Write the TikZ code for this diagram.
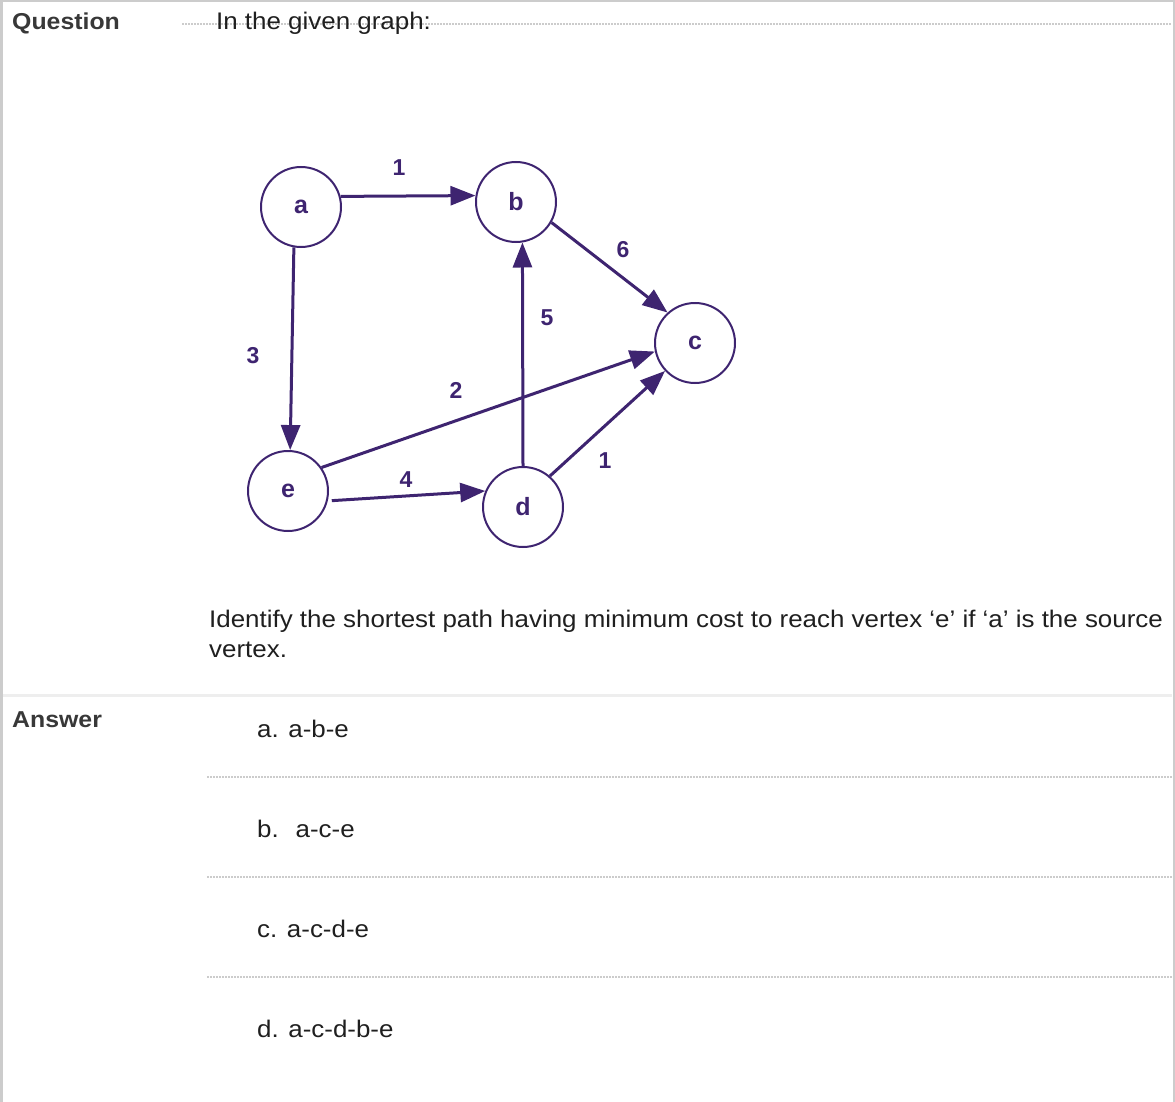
\documentclass[tikz,border=0pt]{standalone}
\usepackage{fontspec}
\setmainfont[FakeStretch=1.08]{Liberation Sans}
\newfontfamily\graphfont{Liberation Sans}
\usetikzlibrary{arrows.meta}
\definecolor{graphpurple}{RGB}{62,36,112}
\definecolor{framegray}{RGB}{204,204,204}
\definecolor{sepgray}{RGB}{238,238,238}
\tikzset{
  vertex/.style={circle, draw=graphpurple, line width=2pt, minimum size=80pt, inner sep=0pt,
    text=graphpurple, font=\graphfont\fontsize{25}{25}\selectfont\bfseries},
  edge/.style={draw=graphpurple, line width=3pt, -{Triangle[length=25pt,width=19pt]}},
  weight/.style={text=graphpurple, font=\graphfont\fontsize{23}{23}\selectfont\bfseries},
  body/.style={anchor=base west, inner sep=0pt, text=black!88, font=\fontsize{24}{28}\selectfont},
  head/.style={anchor=base west, inner sep=0pt, text=black!78, font=\fontsize{23}{28}\selectfont\bfseries},
  dotrule/.style={draw=black!20, line width=1.5pt, dash pattern=on 1.5pt off 1.5pt}
}

\begin{document}
\begin{tikzpicture}[x=1pt,y=-1pt]
    \useasboundingbox (0,0) rectangle (1175,1102);
    % frame and rules
    \draw[framegray, line width=3pt] (1.5,0) -- (1.5,1102);
    \draw[framegray, line width=2pt] (0,1) -- (1175,1);
    \draw[framegray, line width=2pt] (1173.5,0) -- (1173.5,1102);
    \draw[sepgray, line width=3pt] (3,695) -- (1172,695);
    \draw[dotrule] (182,24) -- (1172,24);
    \draw[dotrule] (207,777) -- (1172,777);
    \draw[dotrule] (207,877) -- (1172,877);
    \draw[dotrule] (207,977) -- (1172,977);
    % texts
    \node[head] (question) at (12,30) {Question};
    \node[body] (intro) at (216,30) {In the given graph:};
    \node[body] (task1) at (209,627) {Identify the shortest path having minimum cost to reach vertex ‘e’ if ‘a’ is the source};
    \node[body] (task2) at (209,657) {vertex.};
    \node[head] (answer) at (12,727) {Answer};
    \node[body] (opta) at (257,737) {a. a-b-e};
    \node[body] (optb) at (257,837) {b.~ a-c-e};
    \node[body] (optc) at (257,937) {c. a-c-d-e};
    \node[body] (optd) at (257,1037) {d. a-c-d-b-e};
    % graph
    \node[vertex] (a) at (301,207) {a};
    \node[vertex] (b) at (516,202) {b};
    \node[vertex] (c) at (695,343) {c};
    \node[vertex] (d) at (523,507) {d};
    \node[vertex] (e) at (288,491) {e};
    \draw[edge] (a.15) -- (b.171);
    \draw[edge] (a.260) -- (e.87);
    \draw[edge] (b.-30) -- (c.132);
    \draw[edge] (d.north) -- (b.-81);
    \draw[edge] (e.35) -- (c.192);
    \draw[edge, shorten <=4pt] (e.-14) -- (d.157);
    \draw[edge] (d.49) -- (c.223);
    \node[weight] (wab) at (399,168) {1};
    \node[weight] (wae) at (253,356) {3};
    \node[weight] (wbc) at (623,250) {6};
    \node[weight] (wdb) at (547,318) {5};
    \node[weight] (wec) at (456,390) {2};
    \node[weight] (wed) at (406,480) {4};
    \node[weight] (wdc) at (605,461) {1};
\end{tikzpicture}
\end{document}
